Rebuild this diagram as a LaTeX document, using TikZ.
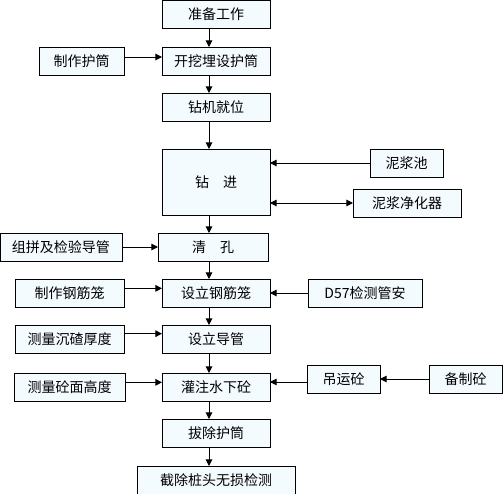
\documentclass[tikz,border=0pt]{standalone}
\usepackage{fontspec}
\newfontfamily\cjk{Noto Sans CJK SC}
\usepackage{tikz}
\usetikzlibrary{arrows.meta,positioning}
\usepackage{xcolor}
\definecolor{boxfill}{HTML}{F4FBFF}

\begin{document}
\begin{tikzpicture}[
    x=1pt, y=1pt,
    proc/.style={rectangle, draw, fill=boxfill, line width=0.75pt, outer sep=0pt, minimum width=81pt, minimum height=21pt, inner sep=1pt, align=center, font=\cjk\fontsize{10.5}{12}\selectfont},
    arrow/.style={-{Triangle[length=5pt,width=5pt]}, line width=0.75pt},
    twoway/.style={{Triangle[length=5pt,width=5pt]}-{Triangle[length=5pt,width=5pt]}, line width=0.75pt}
]
  \useasboundingbox (0,0) rectangle (377.25,-369.75);

  % Main column
  \node[proc] (prep) at (162,-10.5) {准备工作};
  \node[proc, below=14.25pt of prep] (sleeve) {开挖埋设护筒};
  \node[proc, below=13.5pt of sleeve] (rig) {钻机就位};
  \node[proc, below=21pt of rig, minimum height=49.5pt] (drill) {钻\quad 进};
  \node[proc, below=13.5pt of drill, xshift=-2.25pt, minimum width=82.5pt] (flush) {清\quad 孔};
  \node[proc, below=13.5pt of flush, xshift=2.25pt] (setcage) {设立钢筋笼};
  \node[proc, below=13.5pt of setcage] (settube) {设立导管};
  \node[proc, below=15pt of settube] (pour) {灌注水下砼};
  \node[proc, below=13.5pt of pour] (pull) {拔除护筒};
  \node[proc, below=14.25pt of pull, minimum width=118.5pt] (cut) {截除桩头无损检测};

  % Left side
  \node[proc, left=28.5pt of sleeve, minimum width=63.75pt] (makesleeve) {制作护筒};
  \node[proc, left=27pt of flush, minimum width=91.5pt] (tube) {组拼及检验导管};
  \node[proc, left=28.5pt of setcage, minimum width=81.75pt] (makecage) {制作钢筋笼};
  \node[proc, left=28.5pt of settube, minimum width=81.75pt] (sediment) {测量沉碴厚度};
  \node[proc, left=27.75pt of pour, minimum width=83.25pt] (level) {测量砼面高度};

  % Right side
  \node[proc, anchor=north west, minimum width=54.75pt] (pool) at ([xshift=75pt]drill.north east) {泥浆池};
  \node[proc, anchor=south west] (cleaner) at ([xshift=62.25pt, yshift=-1.5pt]drill.south east) {泥浆净化器};
  \node[proc, right=28.5pt of setcage, minimum width=85.5pt] (probe) {D57检测管安};
  \node[proc, right=27.75pt of pour, yshift=6pt, minimum width=54.75pt] (lift) {吊运砼};
  \node[proc, right=36.75pt of lift, minimum width=54.75pt] (mix) {备制砼};

  % Arrows
  \coordinate (spine) at ([xshift=-5.25pt]prep.south);
  \foreach \a/\b in {prep/sleeve, sleeve/rig, rig/drill, drill/flush, flush/setcage, setcage/settube, settube/pour, pour/pull, pull/cut}
    \draw[arrow] (\a.south -| spine) -- (\b.north -| spine);
  \foreach \a/\b/\s in {makesleeve/sleeve/3, tube/flush/0, makecage/setcage/3.5, sediment/settube/4, level/pour/3.5}
    \draw[arrow] ([yshift=\s pt]\a.east) -- ([yshift=\s pt]\a.east -| \b.west);
  \draw[arrow] (pool.west) -- (pool.west -| drill.east);
  \draw[twoway] (cleaner.west) -- (cleaner.west -| drill.east);
  \draw[arrow] (probe.west) -- (probe.west -| setcage.east);
  \draw[arrow] ([yshift=-2.25pt]lift.west) -- ([yshift=-2.25pt]lift.west -| pour.east);
  \draw[arrow] (mix.west) -- (mix.west -| lift.east);
\end{tikzpicture}
\end{document}
